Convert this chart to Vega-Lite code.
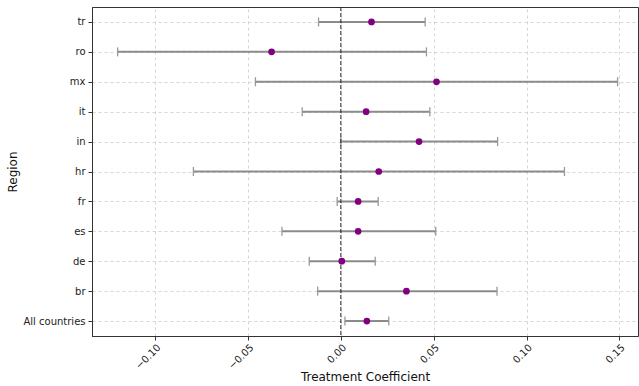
{
  "$schema": "https://vega.github.io/schema/vega-lite/v6.json",
  "width": 546,
  "height": 329,
  "autosize": {"type": "none"},
  "padding": {"left": 92, "top": 7, "right": 1, "bottom": 50},
  "config": {
    "font": "DejaVu Sans",
    "view": {"stroke": "#333333", "strokeWidth": 1},
    "axis": {
      "labelFont": "DejaVu Sans",
      "titleFont": "DejaVu Sans",
      "labelFontSize": 10,
      "titleFontSize": 12,
      "titleFontWeight": "normal",
      "labelColor": "#222222",
      "titleColor": "#111111",
      "domainColor": "#333333",
      "tickColor": "#333333",
      "gridColor": "#cccccc",
      "gridDash": [3, 3],
      "gridWidth": 0.8,
      "tickSize": 4
    }
  },
  "data": {
    "values": [
      {"region": "tr", "coef": 0.0165, "low": -0.012, "high": 0.0454},
      {"region": "ro", "coef": -0.0373, "low": -0.1202, "high": 0.0461},
      {"region": "mx", "coef": 0.0515, "low": -0.046, "high": 0.149},
      {"region": "it", "coef": 0.0136, "low": -0.0208, "high": 0.0479},
      {"region": "in", "coef": 0.0421, "low": 0.0, "high": 0.0844},
      {"region": "hr", "coef": 0.0204, "low": -0.0794, "high": 0.1204},
      {"region": "fr", "coef": 0.0093, "low": -0.002, "high": 0.0201},
      {"region": "es", "coef": 0.0093, "low": -0.0317, "high": 0.0511},
      {"region": "de", "coef": 0.0005, "low": -0.017, "high": 0.0185},
      {"region": "br", "coef": 0.0353, "low": -0.0125, "high": 0.0841},
      {"region": "All countries", "coef": 0.014, "low": 0.0022, "high": 0.0258}
    ]
  },
  "encoding": {
    "y": {
      "field": "region",
      "type": "nominal",
      "sort": ["tr", "ro", "mx", "it", "in", "hr", "fr", "es", "de", "br", "All countries"],
      "scale": {"type": "point", "padding": 0.5},
      "axis": {"title": "Region", "grid": true, "titlePadding": 3, "labelPadding": 3}
    }
  },
  "layer": [
    {
      "mark": {"type": "rule", "color": "#808080", "strokeWidth": 2, "opacity": 0.9},
      "encoding": {
        "x": {
          "field": "low",
          "type": "quantitative",
          "scale": {"domain": [-0.134, 0.16], "nice": false, "zero": false},
          "axis": {
            "title": "Treatment Coefficient",
            "values": [-0.1, -0.05, 0, 0.05, 0.1, 0.15],
            "format": ".2f",
            "labelAngle": -45,
            "labelAlign": "right",
            "labelBaseline": "top",
            "grid": true,
            "titlePadding": 1
          }
        },
        "x2": {"field": "high"}
      }
    },
    {
      "mark": {"type": "tick", "orient": "vertical", "color": "#999999", "size": 9, "thickness": 1.3, "opacity": 1},
      "encoding": {"x": {"field": "low", "type": "quantitative"}}
    },
    {
      "mark": {"type": "tick", "orient": "vertical", "color": "#999999", "size": 9, "thickness": 1.3, "opacity": 1},
      "encoding": {"x": {"field": "high", "type": "quantitative"}}
    },
    {
      "data": {"values": [{"zero": 0}]},
      "mark": {"type": "rule", "color": "#222222", "strokeDash": [4, 2], "strokeWidth": 1},
      "encoding": {"x": {"field": "zero", "type": "quantitative"}, "y": null}
    },
    {
      "mark": {"type": "point", "filled": true, "color": "#800080", "size": 45, "opacity": 1},
      "encoding": {"x": {"field": "coef", "type": "quantitative"}}
    }
  ]
}
